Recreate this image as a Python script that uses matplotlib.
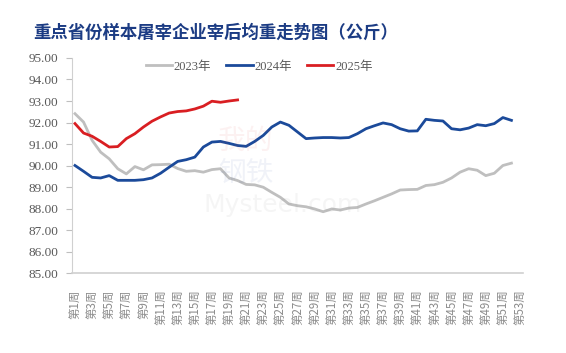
import matplotlib
matplotlib.use("Agg")
import matplotlib.pyplot as plt

# semaines 1..53
semaines = list(range(1, 54))
etiquettes = ["第{}周".format(s) if s % 2 == 1 else "" for s in semaines]

# poids moyen après abattage (kg)
poids_2023 = [92.41, 92.02, 91.17, 90.62, 90.31, 89.85, 89.61, 89.95, 89.80, 90.03,
              90.04, 90.06, 89.86, 89.73, 89.76, 89.69, 89.81, 89.85, 89.42, 89.30,
              89.12, 89.10, 88.99, 88.75, 88.52, 88.21, 88.13, 88.08, 87.98, 87.85,
              87.98, 87.93, 88.02, 88.05, 88.21, 88.36, 88.52, 88.68, 88.86, 88.88,
              88.89, 89.07, 89.11, 89.22, 89.42, 89.69, 89.85, 89.78, 89.53, 89.64,
              90.00, 90.11]
poids_2024 = [90.00, 89.73, 89.45, 89.42, 89.53, 89.31, 89.31, 89.31, 89.34, 89.42,
              89.64, 89.92, 90.19, 90.27, 90.39, 90.86, 91.09, 91.12, 91.03, 90.93,
              90.89, 91.12, 91.40, 91.79, 92.02, 91.87, 91.56, 91.25, 91.28, 91.30,
              91.30, 91.28, 91.30, 91.48, 91.71, 91.85, 91.98, 91.90, 91.71, 91.60,
              91.61, 92.15, 92.10, 92.07, 91.71, 91.66, 91.74, 91.90, 91.85, 91.95,
              92.23, 92.10]
poids_2025 = [91.95, 91.51, 91.36, 91.12, 90.86, 90.88, 91.25, 91.48, 91.79, 92.06,
              92.26, 92.44, 92.51, 92.54, 92.63, 92.76, 92.99, 92.94, 93.00, 93.05]

series = [("2023年", poids_2023, "#BFBFBF"),
          ("2024年", poids_2024, "#1B4A9A"),
          ("2025年", poids_2025, "#D91E22")]

serif_cjk = ["Liberation Serif", "Noto Sans CJK SC"]

fig = plt.figure(figsize=(5.66, 3.53), dpi=100)
ax = fig.add_axes([0.1272, 0.2266, 0.9240 - 0.1272, 0.8357 - 0.2266])

for nom, valeurs, couleur in series:
    ax.plot(semaines[:len(valeurs)], valeurs, color=couleur, lw=2.0,
            label=nom, solid_joinstyle="round")

ax.set_xlim(0.65, 53.35)
ax.set_ylim(85, 95)
ax.set_yticks(range(85, 96))
ax.set_yticklabels(["{:.2f}".format(v) for v in range(85, 96)],
                   family="Liberation Serif", fontsize=9.5, color="#595959")
ax.set_xticks(semaines)
ax.set_xticklabels(etiquettes, rotation=90, family=["Noto Sans CJK SC"],
                   fontsize=8.3, color="#8C8C8C", va="top")
ax.tick_params(axis="x", length=0, pad=12)
ax.tick_params(axis="y", length=4, color="#BFBFBF", pad=6)

for cote in ["top", "right"]:
    ax.spines[cote].set_visible(False)
ax.spines["left"].set_color("#D0D0D0")
ax.spines["bottom"].set_color("#D0D0D0")
ax.spines["bottom"].set_linewidth(1.2)

leg = ax.legend(loc="upper center", bbox_to_anchor=(0.415, 1.04), ncol=3,
                frameon=False, handlelength=2.1, columnspacing=1.2,
                handletextpad=0.15, prop={"family": serif_cjk, "size": 9})
for t in leg.get_texts():
    t.set_color("#595959")

# filigrane
fig.text(0.385, 0.60, "我的", fontsize=20, family="Noto Sans CJK SC",
         color="#E04040", alpha=0.07, ha="left", va="center")
fig.text(0.385, 0.51, "钢铁", fontsize=20, family="Noto Sans CJK SC",
         color="#3050A0", alpha=0.07, ha="left", va="center")
fig.text(0.36, 0.42, "Mysteel.com", fontsize=18, family="DejaVu Sans",
         color="#A0A0A0", alpha=0.10, ha="left", va="center")

fig.text(0.058, 0.907, "重点省份样本屠宰企业宰后均重走势图（公斤）",
         fontsize=12.5, family="Noto Sans CJK SC", weight="heavy",
         color="#1C3C84", ha="left", va="center")

fig.savefig("out.png", dpi=100, facecolor="white")
